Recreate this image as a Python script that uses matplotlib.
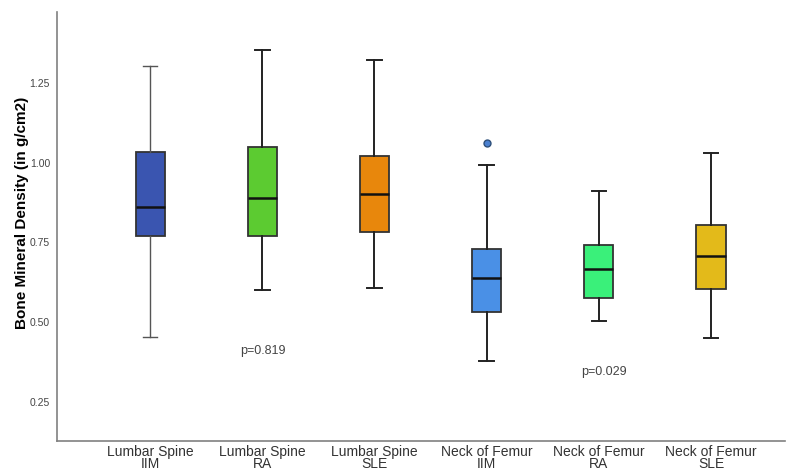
import matplotlib
matplotlib.use("Agg")
import matplotlib.pyplot as plt
from matplotlib import font_manager

names = {f.name for f in font_manager.fontManager.ttflist}
narrow = "Liberation Sans Narrow" if "Liberation Sans Narrow" in names else "Liberation Sans"
plt.rcParams["font.family"] = ["Liberation Sans", "DejaVu Sans"]

categories = ["Lumbar Spine\nIIM", "Lumbar Spine\nRA", "Lumbar Spine\nSLE",
              "Neck of Femur\nIIM", "Neck of Femur\nRA", "Neck of Femur\nSLE"]
whisker_low = [0.455, 0.602, 0.606, 0.378, 0.505, 0.450]
q1 = [0.770, 0.771, 0.783, 0.533, 0.577, 0.604]
median = [0.860, 0.890, 0.902, 0.638, 0.667, 0.706]
q3 = [1.033, 1.048, 1.022, 0.728, 0.743, 0.804]
whisker_high = [1.302, 1.354, 1.323, 0.993, 0.912, 1.031]
outliers = [[], [], [], [1.060], [], []]
colors = ["#3A55B0", "#5CCB31", "#E8870C", "#4A90E6", "#3AF07A", "#E3BA1A"]
p_texts = ["p=0.819", "p=0.029"]
p_pos = [(2.01, 0.410), (5.05, 0.345)]

fig = plt.figure(figsize=(7.88, 4.73), dpi=100)
ax = fig.add_axes([0.0723, 0.0677, 0.924, 0.907])

stats = []
for i in range(len(categories)):
    stats.append(dict(med=median[i], q1=q1[i], q3=q3[i],
                      whislo=whisker_low[i], whishi=whisker_high[i],
                      fliers=outliers[i], label=categories[i]))

positions = list(range(1, len(categories) + 1))
bp = ax.bxp(stats, positions=positions, widths=0.26, patch_artist=True,
            showfliers=True,
            boxprops=dict(edgecolor="#333333", linewidth=1.3),
            medianprops=dict(color="#111111", linewidth=1.8),
            whiskerprops=dict(color="#222222", linewidth=1.4),
            capprops=dict(color="#222222", linewidth=1.4),
            flierprops=dict(marker="o", markersize=5, markerfacecolor="#4A80D0",
                            markeredgecolor="#2E4F7A", markeredgewidth=1.0))
for patch, c in zip(bp["boxes"], colors):
    patch.set_facecolor(c)
# first group drawn with thinner grey whiskers
for ln in bp["whiskers"][0:2] + bp["caps"][0:2]:
    ln.set_color("#555555")
    ln.set_linewidth(1.0)
for c in bp["caps"]:
    xd = c.get_xdata()
    mid = (xd[0] + xd[1]) / 2
    c.set_xdata([mid - 0.065, mid + 0.065])

ax.set_xlim(0.17, 6.66)
ax.set_ylim(0.128, 1.472)
ax.set_yticks([0.25, 0.50, 0.75, 1.00, 1.25])
ax.set_yticklabels(["0.25", "0.50", "0.75", "1.00", "1.25"])
ax.tick_params(axis="y", length=0, labelsize=7.5, labelcolor="#444444", pad=5)
ax.tick_params(axis="x", length=0, labelsize=10, labelcolor="#333333", pad=3)
ax.set_xticks(positions)
ax.set_xticklabels(categories, linespacing=0.8, family=[narrow, "DejaVu Sans"])

for s in ["top", "right"]:
    ax.spines[s].set_visible(False)
for s in ["left", "bottom"]:
    ax.spines[s].set_color("#808080")
    ax.spines[s].set_linewidth(1.2)

ax.set_ylabel("Bone Mineral Density (in g/cm2)", fontsize=11, fontweight="bold")
ax.yaxis.set_label_coords(-0.039, 0.531)

for t, (x, y) in zip(p_texts, p_pos):
    ax.text(x, y, t, ha="center", va="center", fontsize=9, color="#444444")

fig.savefig("out.png", dpi=100)
